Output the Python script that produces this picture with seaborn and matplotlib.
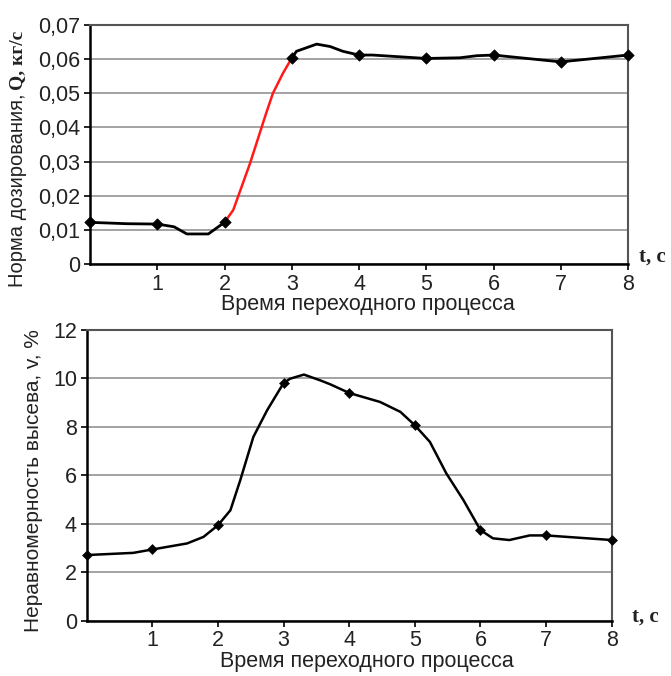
import matplotlib
matplotlib.use("Agg")
import matplotlib.pyplot as plt
import seaborn as sns
import numpy as np

# ---- data: top chart (dosing rate Q, kg/s) ----
t_top_a = [0, 0.55, 1, 1.25, 1.44, 1.76, 2]
q_top_a = [0.0122, 0.0118, 0.0117, 0.0109, 0.0088, 0.0088, 0.0122]
t_top_red = [2, 2.13, 2.38, 2.62, 2.72, 2.87, 3]
q_top_red = [0.0122, 0.0158, 0.0295, 0.0442, 0.0500, 0.0559, 0.0603]
t_top_b = [3, 3.07, 3.37, 3.57, 3.76, 4, 4.2, 5, 5.5, 5.75, 6, 7, 8]
q_top_b = [0.0603, 0.0623, 0.0644, 0.0637, 0.0623, 0.0612, 0.0612, 0.0602,
           0.0604, 0.0610, 0.0612, 0.0592, 0.0612]
t_marks = [0, 1, 2, 3, 4, 5, 6, 7, 8]
q_marks = [0.0122, 0.0117, 0.0122, 0.0603, 0.0612, 0.0602, 0.0612, 0.0592, 0.0612]

# ---- data: bottom chart (non-uniformity v, %) ----
t_bot = [0, 0.71, 1, 1.53, 1.78, 2, 2.19, 2.34, 2.54, 2.75, 3, 3.1, 3.31, 3.56,
         3.71, 4, 4.47, 4.78, 5, 5.23, 5.48, 5.74, 6, 6.19, 6.44, 6.75, 7, 8]
v_bot = [2.71, 2.80, 2.94, 3.19, 3.46, 3.94, 4.56, 5.80, 7.59, 8.69, 9.81, 9.99,
         10.16, 9.92, 9.76, 9.40, 9.03, 8.62, 8.07, 7.38, 6.08, 4.98, 3.74, 3.40,
         3.33, 3.52, 3.52, 3.33]
v_marks = [2.71, 2.94, 3.94, 9.81, 9.40, 8.07, 3.74, 3.52, 3.33]

x_ticks = [1, 2, 3, 4, 5, 6, 7, 8]
y_ticks_top = [0, 0.01, 0.02, 0.03, 0.04, 0.05, 0.06, 0.07]
y_ticks_bot = [0, 2, 4, 6, 8, 10, 12]

xlabel = "Время переходного процесса"
ylabel_top_sans = "Норма дозирования,"
ylabel_top_serif = "Q, кг/с"
ylabel_bot = "Неравномерность высева, v, %"
t_unit = "t, c"

sns.set_style("white")
plt.rcParams['font.family'] = ['Liberation Sans', 'DejaVu Sans']

W, H = 671, 676
fig = plt.figure(figsize=(W / 100, H / 100), dpi=100)

def px_axes(l, t, r, b):
    return fig.add_axes([l / W, 1 - b / H, (r - l) / W, (b - t) / H])

ax1 = px_axes(90, 25, 628, 264)
ax2 = px_axes(86.7, 330, 611.7, 620.7)

def style(ax, yticks, ylim, fmt):
    ax.set_xlim(0, 8)
    ax.set_ylim(*ylim)
    ax.set_xticks(x_ticks)
    ax.set_xticklabels([str(v) for v in x_ticks])
    ax.set_yticks(yticks)
    ax.set_yticklabels([fmt(v) for v in yticks])
    ax.yaxis.grid(True, color='#8a8a8a', lw=1.1)
    ax.xaxis.grid(False)
    ax.set_axisbelow(True)
    ax.tick_params(axis='both', labelsize=15.5, length=4, width=1.2, color='black',
                   labelcolor='#222222', direction='out', pad=3, left=True, bottom=True)
    for s in ['left', 'bottom']:
        ax.spines[s].set_color('black')
        ax.spines[s].set_linewidth(1.8)
    for s in ['top', 'right']:
        ax.spines[s].set_color('#555555')
        ax.spines[s].set_linewidth(1.5)

style(ax1, y_ticks_top, (0, 0.07),
      lambda v: "0" if v == 0 else f"{v:.2f}".replace(".", ","))
style(ax2, y_ticks_bot, (0, 12), lambda v: str(v))

# top curves
sns.lineplot(x=t_top_a, y=q_top_a, ax=ax1, color='black', lw=2, sort=False, estimator=None)
sns.lineplot(x=t_top_b, y=q_top_b, ax=ax1, color='black', lw=2, sort=False, estimator=None)
sns.lineplot(x=t_top_red, y=q_top_red, ax=ax1, color='#ff1a1a', lw=1.8, sort=False, estimator=None)
sns.scatterplot(x=t_marks, y=q_marks, ax=ax1, color='black', marker='D', s=34,
                edgecolor='black', zorder=5, clip_on=False)

# bottom curve
sns.lineplot(x=t_bot, y=v_bot, ax=ax2, color='black', lw=1.8, sort=False, estimator=None)
sns.scatterplot(x=t_marks, y=v_marks, ax=ax2, color='black', marker='D', s=26,
                edgecolor='black', zorder=5, clip_on=False)

for ax in (ax1, ax2):
    ax.set_xlabel("")
    ax.set_ylabel("")
    if ax.get_legend():
        ax.get_legend().remove()

# x labels
fig.text(368 / W, 1 - 305 / H, xlabel, fontsize=15.5, ha='center', va='center',
         color='#222222')
fig.text(367 / W, 1 - 662 / H, xlabel, fontsize=15.5, ha='center', va='center',
         color='#222222')

# t, c units
fig.text(639 / W, 1 - 257 / H, t_unit, fontsize=15, ha='left', va='center',
         family=['Liberation Serif', 'DejaVu Serif'], weight='bold', color='#222222')
fig.text(632 / W, 1 - 617 / H, t_unit, fontsize=15, ha='left', va='center',
         family=['Liberation Serif', 'DejaVu Serif'], weight='bold', color='#222222')

# y labels
t1 = fig.text(18 / W, 1 - 287 / H, ylabel_top_sans, fontsize=14.5, rotation=90,
              ha='center', va='bottom', color='#222222')
fig.canvas.draw()
bb = t1.get_window_extent(fig.canvas.get_renderer())
fig.text(18 / W, (bb.y1 + 4) / H, ylabel_top_serif, fontsize=14, rotation=90,
         ha='center', va='bottom', family=['Liberation Serif', 'DejaVu Serif'],
         weight='bold', color='#222222')

fig.text(34 / W, 1 - 481 / H, ylabel_bot, fontsize=15, rotation=90,
         ha='center', va='center', color='#222222')

fig.savefig("out.png", dpi=100, facecolor='white')
